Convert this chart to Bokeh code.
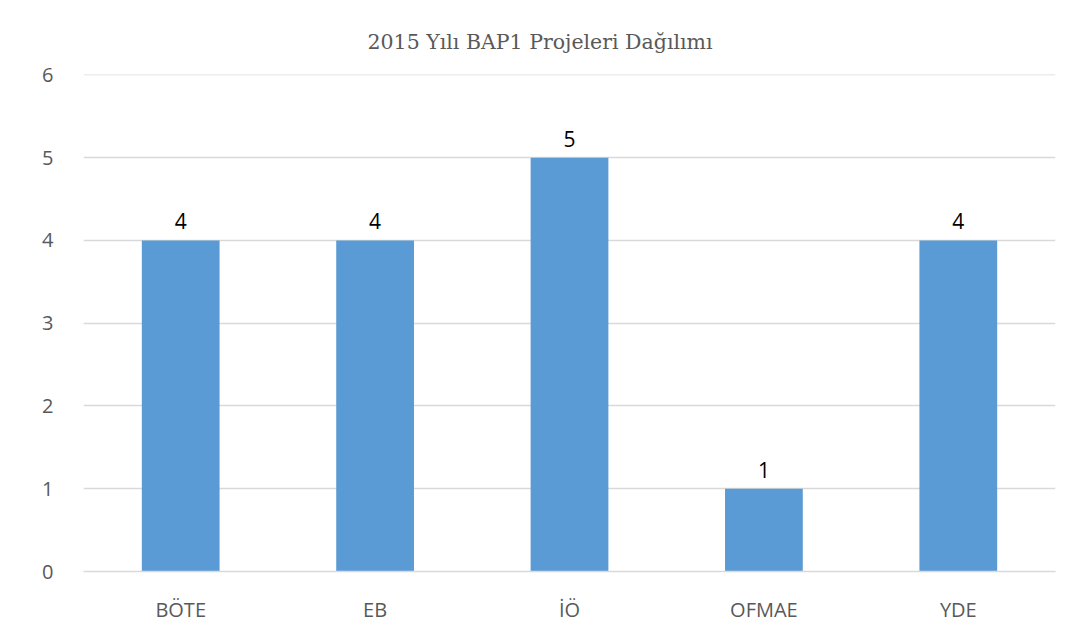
from bokeh.plotting import figure
from bokeh.models import ColumnDataSource, LabelSet, Range1d, FixedTicker
from bokeh.core.properties import value
from bokeh.embed import file_html
from bokeh.resources import INLINE

categories = ["BÖTE", "EB", "İÖ", "OFMAE", "YDE"]
values = [4, 4, 5, 1, 4]
y_ticks = [0, 1, 2, 3, 4, 5, 6]

src = ColumnDataSource(dict(cat=categories, val=values, lbl=[str(v) for v in values]))

p = figure(x_range=categories, y_range=Range1d(0, 6.005), width=1066, height=628,
           output_backend="svg", toolbar_location=None,
           min_border_left=83, min_border_right=11, min_border_top=74, min_border_bottom=57,
           title="2015 Yılı BAP1 Projeleri Dağılımı")
p.x_range.range_padding = 0

p.vbar(x="cat", top="val", width=0.4, source=src, color="#5B9BD5", line_color=None)

labels = LabelSet(x="cat", y="val", text="lbl", source=src, text_align="center",
                  text_baseline="bottom", y_offset=11, text_font_size=value("21px"),
                  text_color="#000000", text_font=value("Open Sans"))
p.add_layout(labels)

p.title.align = "left"
p.title.offset = 284
p.title.text_font = "DejaVu Serif"
p.title.text_font_size = "20.5px"
p.title.text_font_style = "normal"
p.title.text_color = "#595959"
p.title.standoff = 41

p.outline_line_color = None
p.xgrid.grid_line_color = None
p.ygrid.grid_line_color = "#d9d9d9"
p.ygrid.grid_line_width = 1.5
p.yaxis.ticker = FixedTicker(ticks=y_ticks)

for ax in (p.xaxis, p.yaxis):
    ax.axis_line_color = None
    ax.major_tick_line_color = None
    ax.minor_tick_line_color = None
    ax.major_label_text_color = "#595959"
    ax.major_label_text_font = "Open Sans"
    ax.major_label_text_font_size = "20px"

p.xaxis.axis_line_color = "#d9d9d9"
p.xaxis.axis_line_width = 1.5
p.xaxis.major_label_standoff = 18
p.yaxis.major_label_standoff = 24

p.background_fill_color = "white"
p.border_fill_color = "white"

open("out.html", "w").write(file_html(p, INLINE))
